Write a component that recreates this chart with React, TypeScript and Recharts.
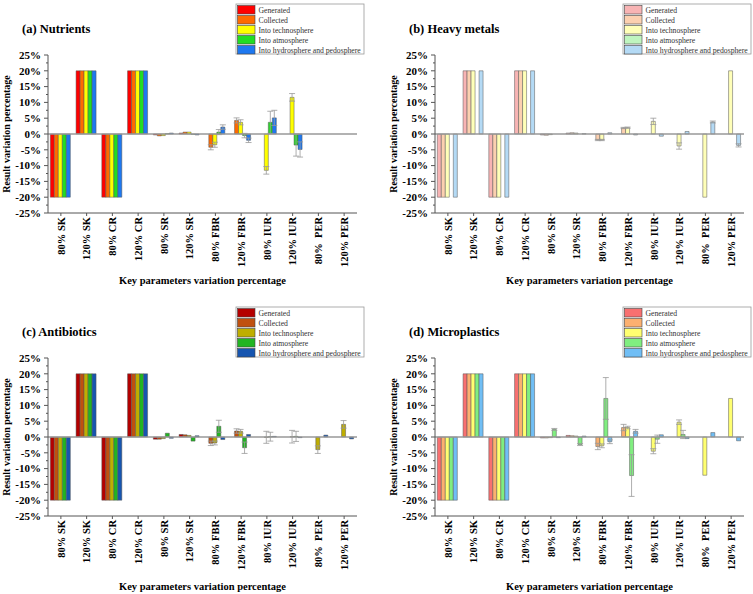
import React from "react";
import { BarChart, Bar, XAxis, YAxis, ErrorBar, ReferenceLine } from "recharts";

const categories = [
  "80% SK", "120% SK", "80% CR", "120% CR", "80% SR", "120% SR",
  "80% FBR", "120% FBR", "80% IUR", "120% IUR", "80%\u00a0 PER", "120% PER",
];
const seriesNames = [
  "Generated",
  "Collected",
  "Into technosphere",
  "Into atmosphere",
  "Into hydrosphere and pedosphere",
];
const seriesKeys = ["gen", "coll", "tech", "atm", "hydro"];
const yTicks = [-25, -20, -15, -10, -5, 0, 5, 10, 15, 20, 25];

// (a) Nutrients
const nutGenerated = [-20, 20, -20, 20, -0.3, 0.3, 0, 0, 0, 0, 0, 0];
const nutCollected = [-20, 20, -20, 20, -0.6, 0.6, -4.2, 4.3, 0, 0, 0, 0];
const nutTechno = [-20, 20, -20, 20, -0.5, 0.6, -3.4, 3.7, -11.5, 11.6, 0, 0];
const nutAtmos = [-20, 20, -20, 20, 0.1, -0.1, 0.6, -0.5, 3.7, -3.5, 0, 0];
const nutHydro = [-20, 20, -20, 20, 0.3, -0.3, 2.2, -2.0, 5.1, -4.9, 0, 0];
const nutGeneratedErr = [0, 0, 0, 0, 0, 0, 0, 0, 0, 0, 0, 0];
const nutCollectedErr = [0, 0, 0, 0, 0, 0, 0.8, 0.8, 0, 0, 0, 0];
const nutTechnoErr = [0, 0, 0, 0, 0, 0, 0.8, 0.8, 1.2, 1.2, 0, 0];
const nutAtmosErr = [0, 0, 0, 0, 0, 0, 0.8, 0.7, 3.5, 3.5, 0, 0];
const nutHydroErr = [0, 0, 0, 0, 0, 0, 0.7, 0.7, 2.4, 2.4, 0, 0];

// (b) Heavy metals
const hmGenerated = [-20, 20, -20, 20, -0.3, 0.3, 0, 0, 0, 0, 0, 0];
const hmCollected = [-20, 20, -20, 20, -0.4, 0.4, -1.9, 1.9, 0, 0, 0, 0];
const hmTechno = [-20, 20, -20, 20, -0.2, 0.3, -1.9, 2.0, 4.0, -3.8, -20, 20];
const hmAtmos = [0, 0, 0, 0, 0, 0, 0, 0, 0, 0, 0, 0];
const hmHydro = [-20, 20, -20, 20, 0, 0.1, 0.4, -0.3, -0.7, 0.8, 3.8, -3.6];
const hmGeneratedErr = [0, 0, 0, 0, 0, 0, 0, 0, 0, 0, 0, 0];
const hmCollectedErr = [0, 0, 0, 0, 0, 0, 0.2, 0.2, 0, 0, 0, 0];
const hmTechnoErr = [0, 0, 0, 0, 0, 0, 0.2, 0.2, 1.0, 1.0, 0, 0];
const hmAtmosErr = [0, 0, 0, 0, 0, 0, 0, 0, 0, 0, 0, 0];
const hmHydroErr = [0, 0, 0, 0, 0, 0, 0, 0, 0, 0, 0.3, 0.5];

// (c) Antibiotics
const abGenerated = [-20, 20, -20, 20, -0.7, 0.8, 0, 0, 0, 0, 0, 0];
const abCollected = [-20, 20, -20, 20, -0.7, 0.7, -2.0, 1.9, 0, 0, 0, 0];
const abTechno = [-20, 20, -20, 20, -0.5, 0.5, -1.9, 1.8, -0.1, 0.1, -4.0, 4.0];
const abAtmos = [-20, 20, -20, 20, 1.2, -1.3, 3.4, -3.4, 0.1, 0.2, 0, 0];
const abHydro = [-20, 20, -20, 20, -0.4, 0.4, -0.8, 0.8, 0.2, -0.2, 0.6, -0.6];
const abGeneratedErr = [0, 0, 0, 0, 0, 0, 0, 0, 0, 0, 0, 0];
const abCollectedErr = [0, 0, 0, 0, 0, 0, 0.7, 0.7, 0, 0, 0, 0];
const abTechnoErr = [0, 0, 0, 0, 0, 0, 0.6, 0.6, 1.9, 2.0, 1.2, 1.2];
const abAtmosErr = [0, 0, 0, 0, 0, 0, 1.9, 1.8, 1.4, 1.6, 0, 0];
const abHydroErr = [0, 0, 0, 0, 0, 0, 0, 0, 0, 0, 0, 0];

// (d) Microplastics
const mpGenerated = [-20, 20, -20, 20, -0.3, 0.5, 0, 0, 0, 0, 0, 0];
const mpCollected = [-20, 20, -20, 20, -0.3, 0.4, -3.0, 3.0, 0, 0, 0, 0];
const mpTechno = [-20, 20, -20, 20, -0.2, 0.3, -2.8, 3.0, -4.5, 4.7, -12.1, 12.2];
const mpAtmos = [-20, 20, -20, 20, 2.4, -2.4, 12.2, -12.2, -0.7, 0.8, 0, 0];
const mpHydro = [-20, 20, -20, 20, -0.2, 0.3, -1.5, 1.8, 0.7, -0.5, 1.4, -1.2];
const mpGeneratedErr = [0, 0, 0, 0, 0, 0, 0, 0, 0, 0, 0, 0];
const mpCollectedErr = [0, 0, 0, 0, 0, 0, 1.0, 1.0, 0, 0, 0, 0];
const mpTechnoErr = [0, 0, 0, 0, 0, 0, 0.6, 0.4, 0.8, 0.7, 0, 0];
const mpAtmosErr = [0, 0, 0, 0, 0.3, 0.3, 6.6, 6.6, 1.3, 1.3, 0, 0];
const mpHydroErr = [0, 0, 0, 0, 0, 0, 0.6, 0.6, 0, 0, 0, 0];

const FONT = "Liberation Serif";
const AXIS = "#555";
const PLOT_TOP = 55;
const PLOT_BOTTOM = 213;
const PLOT_LEFT = 48;
const PLOT_RIGHT = 357;
const MINOR = (PLOT_BOTTOM - PLOT_TOP) / 20;

const serif = (size: number, bold = true): React.CSSProperties => ({
  fontFamily: FONT,
  fontWeight: bold ? 700 : 400,
  fontSize: size,
});

type PanelProps = {
  title: string;
  left: number;
  top: number;
  height: number;
  xLabelY: number;
  colors: string[];
  values: number[][];
  errors: number[][];
};

const XTick = (props: any) => {
  const { x, y, payload } = props;
  return (
    <text
      x={x}
      y={y}
      transform={`rotate(-90, ${x}, ${y})`}
      textAnchor="end"
      dy="0.35em"
      style={serif(10.5)}
      fill="#000"
    >
      {payload.value}
    </text>
  );
};

const YTick = (props: any) => {
  const { x, y, payload } = props;
  return (
    <g>
      <text x={x} y={y} textAnchor="end" dy="0.35em" style={serif(11)} fill="#000">
        {`${payload.value}%`}
      </text>
      {payload.value > -25 && (
        <line x1={PLOT_LEFT - 2} x2={PLOT_LEFT} y1={y + MINOR} y2={y + MINOR} stroke={AXIS} />
      )}
    </g>
  );
};

const Panel: React.FC<PanelProps> = ({ title, left, top, height, xLabelY, colors, values, errors }) => {
  const rows = categories.map((cat, i) => {
    const row: Record<string, any> = { cat };
    seriesKeys.forEach((k, j) => {
      row[k] = values[j][i];
      row[k + "Err"] = errors[j][i];
    });
    return row;
  });

  return (
    <div style={{ position: "absolute", left, top, width: 366, height }}>
      <BarChart
        width={366}
        height={height}
        data={rows}
        margin={{ top: PLOT_TOP, right: 366 - PLOT_RIGHT, left: 0, bottom: 0 }}
        barCategoryGap="9%"
        barGap={0}
      >
        <XAxis
          dataKey="cat"
          interval={0}
          height={height - PLOT_BOTTOM}
          tick={(p: any) => <XTick {...p} />}
          tickSize={3}
          tickMargin={1}
          axisLine={{ stroke: AXIS }}
          tickLine={{ stroke: AXIS }}
        />
        <YAxis
          domain={[-25, 25]}
          ticks={yTicks}
          interval={0}
          width={PLOT_LEFT}
          tick={(p: any) => <YTick {...p} />}
          tickSize={4}
          tickMargin={3}
          axisLine={{ stroke: AXIS }}
          tickLine={{ stroke: AXIS }}
        />
        <ReferenceLine y={0} stroke="#999" strokeWidth={1.3} />
        {seriesKeys.map((k, j) => (
          <Bar
            key={k}
            dataKey={k}
            fill={colors[j]}
            stroke="#555"
            strokeWidth={0.5}
            isAnimationActive={false}
          >
            <ErrorBar dataKey={k + "Err"} width={3} stroke="#999" strokeWidth={0.8} />
          </Bar>
        ))}
      </BarChart>
      <svg
        width={366}
        height={height}
        style={{ position: "absolute", left: 0, top: 0, pointerEvents: "none" }}
      >
        <text x={22} y={33} style={serif(12.5)} fill="#000">
          {title}
        </text>
        <text
          transform="rotate(-90)"
          x={-(PLOT_TOP + PLOT_BOTTOM) / 2}
          y={10}
          textAnchor="middle"
          style={serif(10)}
          fill="#000"
        >
          Result variation percentage
        </text>
        <text
          x={(PLOT_LEFT + PLOT_RIGHT) / 2}
          y={xLabelY}
          textAnchor="middle"
          style={serif(10.5)}
          fill="#000"
        >
          Key parameters variation percentage
        </text>
        <rect x={236} y={4} width={128} height={50} fill="#fff" stroke="#999" strokeWidth={0.8} />
        {seriesNames.map((name, i) => (
          <g key={name}>
            <rect
              x={237.5}
              y={5.5 + i * 10}
              width={17.5}
              height={8.5}
              fill={colors[i]}
              stroke="#444"
              strokeWidth={0.6}
            />
            <text x={258.5} y={12.5 + i * 10} style={serif(7.7, false)} fill="#333">
              {name}
            </text>
          </g>
        ))}
      </svg>
    </div>
  );
};

const nutColors = ["#ff0000", "#ff6a00", "#ffff00", "#22dd22", "#1e78f0"];
const hmColors = ["#f8b4b4", "#fcd0b0", "#ffffb8", "#bff5bf", "#b4daf5"];
const abColors = ["#b40000", "#c0500f", "#bfae00", "#22b422", "#1655b0"];
const mpColors = ["#f87070", "#fcb070", "#ffff70", "#80ee80", "#70bef5"];

export default function App() {
  return (
    <div
      style={{
        position: "absolute",
        left: 0,
        top: 0,
        width: 753,
        height: 594,
        background: "#fff",
        fontFamily: FONT,
      }}
    >
      <Panel
        title="(a) Nutrients"
        left={0}
        top={0}
        height={297}
        xLabelY={284}
        colors={nutColors}
        values={[nutGenerated, nutCollected, nutTechno, nutAtmos, nutHydro]}
        errors={[nutGeneratedErr, nutCollectedErr, nutTechnoErr, nutAtmosErr, nutHydroErr]}
      />
      <Panel
        title="(b) Heavy metals"
        left={387}
        top={0}
        height={297}
        xLabelY={284}
        colors={hmColors}
        values={[hmGenerated, hmCollected, hmTechno, hmAtmos, hmHydro]}
        errors={[hmGeneratedErr, hmCollectedErr, hmTechnoErr, hmAtmosErr, hmHydroErr]}
      />
      <Panel
        title="(c) Antibiotics"
        left={0}
        top={303}
        height={291}
        xLabelY={287}
        colors={abColors}
        values={[abGenerated, abCollected, abTechno, abAtmos, abHydro]}
        errors={[abGeneratedErr, abCollectedErr, abTechnoErr, abAtmosErr, abHydroErr]}
      />
      <Panel
        title="(d) Microplastics"
        left={387}
        top={303}
        height={291}
        xLabelY={287}
        colors={mpColors}
        values={[mpGenerated, mpCollected, mpTechno, mpAtmos, mpHydro]}
        errors={[mpGeneratedErr, mpCollectedErr, mpTechnoErr, mpAtmosErr, mpHydroErr]}
      />
    </div>
  );
}
